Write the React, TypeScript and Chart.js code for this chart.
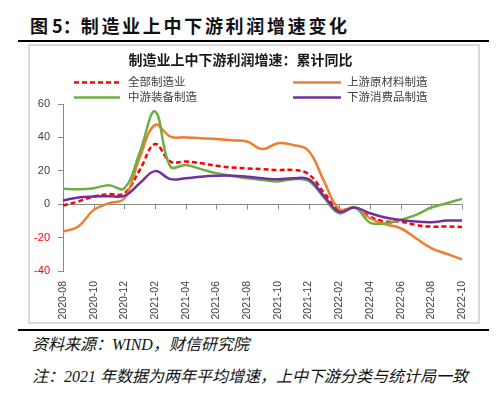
import React, { useEffect, useRef } from "react";
import { Chart, registerables } from "chart.js";

Chart.register(...registerables);

const months = [
  "2020-08", "2020-09", "2020-10", "2020-11", "2020-12",
  "2021-01", "2021-02", "2021-03", "2021-04", "2021-05", "2021-06",
  "2021-07", "2021-08", "2021-09", "2021-10", "2021-11", "2021-12",
  "2022-01", "2022-02", "2022-03", "2022-04", "2022-05", "2022-06",
  "2022-07", "2022-08", "2022-09", "2022-10",
];

const allManufacturing = [-0.8, 1.6, 4.6, 6, 6.5, 20.5, 36, 25.5, 25.5, 24.5, 23, 22, 21.4, 21, 20.5, 20.5, 18, 7, -3.5, -2, -7.5, -10.4, -10.4, -12.4, -13.4, -13.4, -13.6];
const upstream = [-16.4, -13.4, -3.4, 0.6, 3.5, 28, 47.5, 40.5, 40, 39.5, 39, 38.3, 37.5, 33, 36.5, 35.5, 32, 14, -3, -2.2, -8.4, -12, -14.4, -20.4, -26.3, -29.7, -33];
const midstream = [9.2, 9, 9.6, 11.4, 9.5, 31, 55.5, 22.5, 23.5, 21, 18.5, 17, 15.5, 14.5, 13.6, 15, 14, 4, -5.5, -1.8, -11, -11.5, -9.4, -6.4, -2, 0.6, 3.2];
const downstream = [2.2, 4, 4.6, 4.8, 5, 12.5, 19.8, 15, 15.5, 16.5, 17, 17.1, 16.5, 15.5, 14.9, 15.5, 15, 5, -4.5, -2, -5.4, -8, -9.4, -10.4, -10.8, -9.8, -9.8];

const seriesNames = ["全部制造业", "上游原材料制造", "中游装备制造", "下游消费品制造"];
const seriesColors = ["#FF0000", "#ED7D31", "#70AD47", "#7030A0"];
const yMin = -40;
const yMax = 60;
const yStep = 20;

const figureLabel = "图 5：";
const figureTitle = "制造业上中下游利润增速变化";
const chartTitle = "制造业上中下游利润增速：累计同比";
const sourceNote = "资料来源：WIND，财信研究院";
const footNote = "注：2021 年数据为两年平均增速，上中下游分类与统计局一致";

const legendSlots = [
  { lx: 44, lw: 46, tx: 98, y: 36 },
  { lx: 263, lw: 48, tx: 317, y: 36 },
  { lx: 44, lw: 46, tx: 98, y: 51 },
  { lx: 263, lw: 48, tx: 317, y: 51 },
];

const overlayPlugin = {
  id: "overlay",
  beforeDatasetsDraw(chart: any) {
    const { ctx, chartArea, scales } = chart;
    const xs = scales.x;
    const ys = scales.y;
    const y0 = Math.round(ys.getPixelForValue(0)) + 0.5;
    ctx.save();
    ctx.strokeStyle = "#898989";
    ctx.lineWidth = 1;
    ctx.beginPath();
    ctx.moveTo(chartArea.left, y0);
    ctx.lineTo(chartArea.right, y0);
    for (let i = 0; i < months.length; i += 2) {
      const px = Math.round(xs.getPixelForValue(i)) + 0.5;
      ctx.moveTo(px, y0);
      ctx.lineTo(px, y0 + 5);
    }
    ctx.stroke();
    ctx.restore();
  },
  afterDraw(chart: any) {
    const { ctx } = chart;
    ctx.save();
    ctx.fillStyle = "#1a1a1a";
    ctx.font = "bold 14px 'Noto Sans CJK SC'";
    ctx.textAlign = "center";
    ctx.textBaseline = "middle";
    ctx.fillText(chartTitle, 210.5, 14);

    chart.data.datasets.forEach((ds: any, i: number) => {
      const s = legendSlots[i];
      ctx.strokeStyle = ds.borderColor;
      ctx.lineWidth = ds.borderWidth;
      ctx.setLineDash(ds.borderDash || []);
      ctx.beginPath();
      ctx.moveTo(s.lx, s.y + 0.5);
      ctx.lineTo(s.lx + s.lw, s.y + 0.5);
      ctx.stroke();
      ctx.setLineDash([]);
      ctx.fillStyle = "#404040";
      ctx.font = "11.5px 'Noto Sans CJK SC'";
      ctx.textAlign = "left";
      ctx.textBaseline = "middle";
      ctx.fillText(ds.label, s.tx, s.y);
    });
    ctx.restore();
  },
};

export default function App() {
  const ref = useRef<HTMLCanvasElement>(null);

  useEffect(() => {
    const seriesData = [allManufacturing, upstream, midstream, downstream];
    const chart = new Chart(ref.current as HTMLCanvasElement, {
      type: "line",
      data: {
        labels: months,
        datasets: seriesData.map((d, i) => ({
          label: seriesNames[i],
          data: d,
          borderColor: seriesColors[i],
          backgroundColor: seriesColors[i],
          borderWidth: 2.5,
          borderDash: i === 0 ? [5, 3] : [],
          pointRadius: 0,
          tension: 0.4,
          fill: false,
          order: 3 - i,
        })),
      },
      options: {
        animation: false,
        responsive: false,
        maintainAspectRatio: false,
        layout: { padding: { left: 0, right: 16, top: 58, bottom: 0 } },
        plugins: {
          legend: { display: false },
          title: { display: false },
          tooltip: { enabled: false },
        },
        scales: {
          x: {
            type: "category",
            offset: false,
            grid: { display: false },
            border: { display: false },
            ticks: {
              autoSkip: false,
              maxRotation: 90,
              minRotation: 90,
              padding: 2,
              color: "#404040",
              font: { family: "'Liberation Sans', Arial", size: 10.5 },
              callback: (_v: any, i: number) => (i % 2 === 0 ? months[i] : ""),
            },
            afterFit: (s: any) => {
              s.height = 51;
            },
          },
          y: {
            min: yMin,
            max: yMax,
            ticks: {
              stepSize: yStep,
              padding: 8,
              font: { family: "'Liberation Sans', Arial", size: 11 },
              color: (c: any) => (c.tick && c.tick.value < 0 ? "#FF0000" : "#404040"),
            },
            grid: {
              display: true,
              drawOnChartArea: false,
              drawTicks: true,
              tickLength: 5,
              color: "#898989",
            },
            border: { display: true, color: "#898989", width: 1 },
            afterFit: (s: any) => {
              s.width = 33;
            },
          },
        },
      } as any,
      plugins: [overlayPlugin],
    });
    return () => chart.destroy();
  }, []);

  return (
    <div style={{ position: "absolute", left: 0, top: 0, width: 500, height: 400, background: "#fff", overflow: "hidden" }}>
      <div
        style={{
          position: "absolute",
          left: 30,
          top: 16,
          whiteSpace: "pre",
          fontFamily: "'Noto Sans CJK SC', sans-serif",
          fontWeight: "bold",
          fontSize: 18,
          lineHeight: "18px",
          color: "#111",
        }}
      >
        <span>{figureLabel}</span>
        <span style={{ letterSpacing: 2.7 }}>{figureTitle}</span>
      </div>
      <div style={{ position: "absolute", left: 18, top: 40, width: 471, height: 2, background: "#000" }} />
      <div
        style={{
          position: "absolute",
          left: 28,
          top: 44,
          width: 448,
          height: 276,
          border: "2px solid #DADADA",
        }}
      />
      <canvas
        ref={ref}
        width={448}
        height={276}
        style={{ position: "absolute", left: 30, top: 46, width: 448, height: 276 }}
      />
      <div style={{ position: "absolute", left: 18, top: 329, width: 471, height: 2, background: "#000" }} />
      <div
        style={{
          position: "absolute",
          left: 32,
          top: 337,
          whiteSpace: "nowrap",
          fontFamily: "'Liberation Serif', 'Noto Sans CJK SC', serif",
          fontStyle: "italic",
          fontSize: 16,
          lineHeight: "16px",
          color: "#111",
        }}
      >
        {sourceNote}
      </div>
      <div
        style={{
          position: "absolute",
          left: 32,
          top: 369,
          whiteSpace: "nowrap",
          fontFamily: "'Liberation Serif', 'Noto Sans CJK SC', serif",
          fontStyle: "italic",
          fontSize: 16,
          lineHeight: "16px",
          color: "#111",
        }}
      >
        {footNote}
      </div>
    </div>
  );
}
